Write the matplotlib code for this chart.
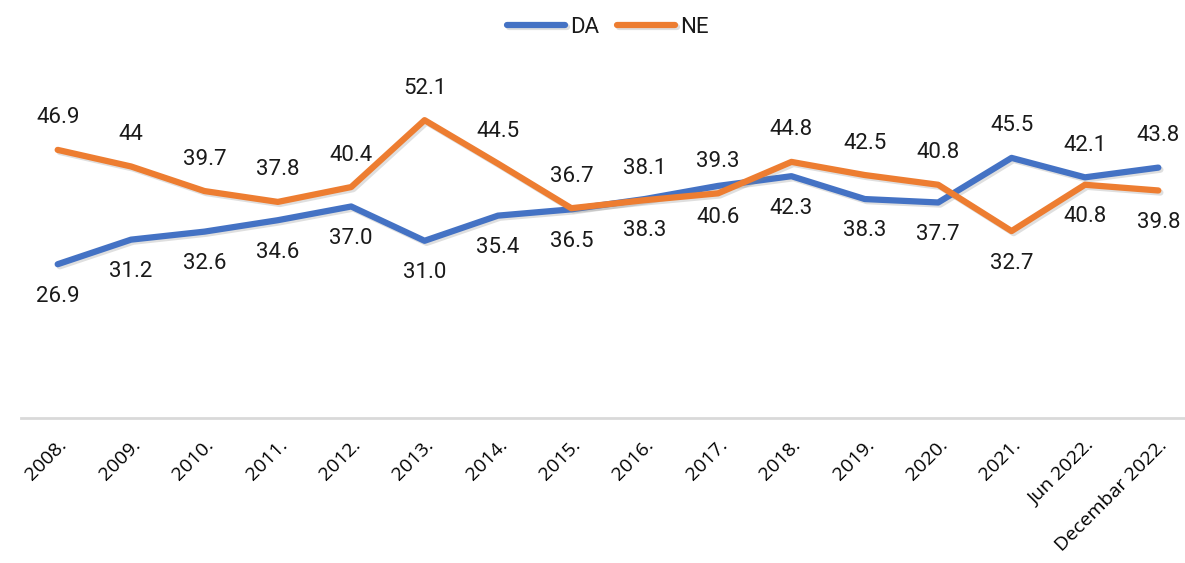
import matplotlib.pyplot as plt
import matplotlib.patheffects as pe

categories = ['2008.', '2009.', '2010.', '2011.', '2012.', '2013.', '2014.', '2015.',
              '2016.', '2017.', '2018.', '2019.', '2020.', '2021.', 'Jun 2022.', 'Decembar 2022.']
da = [26.9, 31.2, 32.6, 34.6, 37.0, 31.0, 35.4, 36.5, 38.3, 40.6, 42.3, 38.3, 37.7, 45.5, 42.1, 43.8]
ne = [46.9, 44, 39.7, 37.8, 40.4, 52.1, 44.5, 36.7, 38.1, 39.3, 44.8, 42.5, 40.8, 32.7, 40.8, 39.8]
da_labels = ['26.9', '31.2', '32.6', '34.6', '37.0', '31.0', '35.4', '36.5', '38.3', '40.6',
             '42.3', '38.3', '37.7', '45.5', '42.1', '43.8']
ne_labels = ['46.9', '44', '39.7', '37.8', '40.4', '52.1', '44.5', '36.7', '38.1', '39.3',
             '44.8', '42.5', '40.8', '32.7', '40.8', '39.8']

blue = '#4472C4'
orange = '#ED7D31'

fig = plt.figure(figsize=(11.85, 5.63), dpi=100)
ax = fig.add_axes([21 / 1185, 145 / 563, 1174 / 1185, 343 / 563])

x = list(range(len(categories)))
shadow = [pe.SimpleLineShadow(offset=(1.5, -1.5), alpha=0.25, shadow_color='gray'), pe.Normal()]
ax.plot(x, da, color=blue, lw=4.5, label='DA', solid_capstyle='round', path_effects=shadow)
ax.plot(x, ne, color=orange, lw=4.5, label='NE', solid_capstyle='round', path_effects=shadow)

lblfont = dict(fontsize=16, family='Roboto', fontweight='normal', color='#1a1a1a',
               ha='center', va='center')
for i in x:
    # DA below / NE above until the lines swap in 2021
    s = 1 if da[i] > ne[i] and i >= 13 else -1
    ax.annotate(da_labels[i], (i, da[i]), xytext=(0, 23 * s), textcoords='offset points', **lblfont)
    ax.annotate(ne_labels[i], (i, ne[i]), xytext=(0, -23 * s), textcoords='offset points', **lblfont)

ax.set_xlim(-0.5, len(categories) - 0.5)
ax.set_ylim(0, 60)
ax.set_xticks(x)
ax.set_xticklabels(categories, rotation=45, ha='right', rotation_mode='anchor',
                   fontsize=14, family='Open Sans', color='black')
ax.tick_params(axis='x', length=0, pad=13)
ax.set_yticks([])
for s in ['top', 'right', 'left']:
    ax.spines[s].set_visible(False)
ax.spines['bottom'].set_color('#d9d9d9')
ax.spines['bottom'].set_linewidth(2)

leg = fig.legend(loc='upper center', bbox_to_anchor=(0.513, 1.005), ncol=2, frameon=False,
                 prop={'family': 'Roboto', 'size': 16},
                 handlelength=2.6, columnspacing=0.8, handletextpad=0.25)
for t in leg.get_texts():
    t.set_color('#1a1a1a')

fig.savefig('out.png', dpi=100)
